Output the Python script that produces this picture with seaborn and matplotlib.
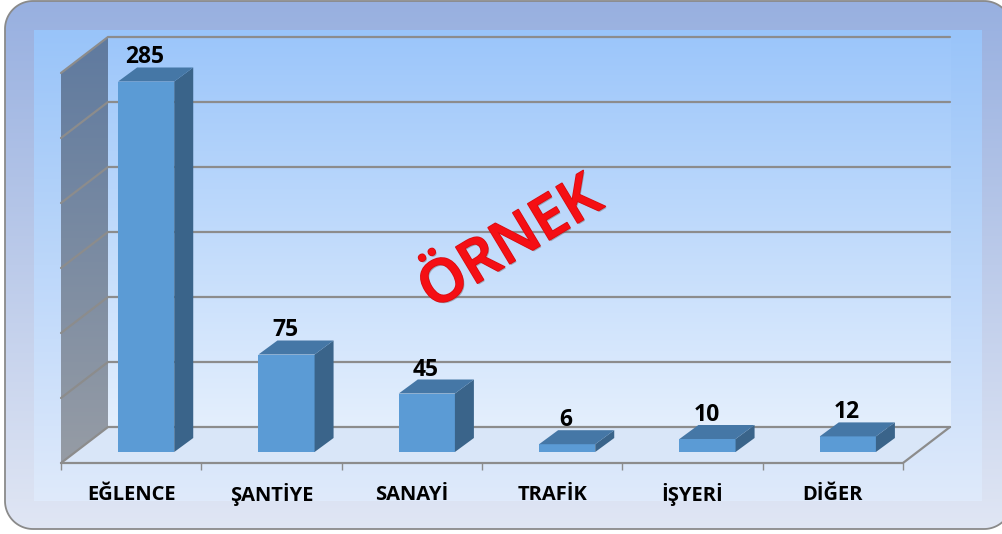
import numpy as np
import pandas as pd
import matplotlib
matplotlib.use("Agg")
import matplotlib.pyplot as plt
import matplotlib.patheffects as pe
from matplotlib.colors import LinearSegmentedColormap
from matplotlib.patches import Polygon, Rectangle
import seaborn as sns

categories = ["EĞLENCE", "ŞANTİYE", "SANAYİ", "TRAFİK", "İŞYERİ", "DİĞER"]
values = [285, 75, 45, 6, 10, 12]
y_grid = [0, 50, 100, 150, 200, 250, 300]

W, H = 1003, 534
sns.set_theme(style="white")
plt.rcParams["font.family"] = ["Open Sans", "DejaVu Sans"]
fig = plt.figure(figsize=(W / 100, H / 100), dpi=100, facecolor="white")

# ---- decorative backdrop in pixel coordinates
bg = fig.add_axes([0, 0, 1, 1], zorder=0)
bg.set_xlim(0, W); bg.set_ylim(H, 0); bg.axis("off")
grad = np.linspace(0, 1, 256).reshape(-1, 1)

def vgrad(c0, c1, box, clip=None):
    cmap = LinearSegmentedColormap.from_list("g", [c0, c1])
    im = bg.imshow(grad, cmap=cmap, extent=(box[0], box[1], box[3], box[2]),
                   aspect="auto", zorder=box[4])
    if clip is not None:
        im.set_clip_box(fig.bbox)
        im.set_clip_path(clip)
    return im

def rounded_outline(x0, x1, y0, y1, r):
    pts = []
    for cx, cy, a0 in [(x1 - r, y0 + r, -90), (x1 - r, y1 - r, 0), (x0 + r, y1 - r, 90), (x0 + r, y0 + r, 180)]:
        t = np.radians(np.linspace(a0, a0 + 90, 24))
        pts.append(np.column_stack([cx + r * np.cos(t), cy + r * np.sin(t)]))
    return np.vstack(pts)

frame = Polygon(rounded_outline(5, 1012, 1, 529, 28), closed=True,
                fc="none", ec="#8a8a8a", lw=1.3, zorder=3, clip_on=False)
bg.add_patch(frame)
vgrad("#98b0e0", "#e0e6f4", (5, 1012, 1, 529, 1), clip=frame)
vgrad("#99c4f9", "#dfeafb", (34, 982, 30, 501, 2))
vgrad("#9cc6fa", "#e4effd", (108, 951, 37, 427, 2.1))
bg.set_xlim(0, W); bg.set_ylim(H, 0)

# ---- chart axes: front plane of the 3D box
ax = fig.add_axes([61 / W, 1 - 463 / H, (903 - 61) / W, (463 - 73) / H], zorder=2)
ax.patch.set_alpha(0)
df = pd.DataFrame({"category": categories, "value": values})
sns.barplot(data=df, x="category", y="value", color="#5b9bd5", saturation=1,
            width=0.4, ax=ax, zorder=5, linewidth=0, edgecolor="none")
ax.set_xlim(-0.5, 5.5)
ax.set_ylim(0, 300)
ax.set_xlabel(""); ax.set_ylabel("")

px_x = (903 - 61) / 6      # pixels per category
px_y = 390 / 300           # pixels per value unit
wall_dx, wall_dy = 47 / px_x, 36 / px_y
bar_dx, bar_dy = 19 / px_x, 14 / px_y
shift_x, shift_y = 15 / px_x, 11 / px_y
grid_c = "#8c8c8c"

# floor
ax.add_patch(Polygon([(-0.5, 0), (5.5, 0), (5.5 + wall_dx, wall_dy), (-0.5 + wall_dx, wall_dy)],
                     fc="#d9e6f8", ec="none", zorder=1, clip_on=False))
# left wall with gradient
wall = Polygon([(-0.5, 0), (-0.5, 300), (-0.5 + wall_dx, 300 + wall_dy), (-0.5 + wall_dx, wall_dy)],
               fc="none", ec="none", transform=ax.transData, clip_on=False)
ax.add_patch(wall)
cm = LinearSegmentedColormap.from_list("w", ["#5f7a9f", "#969ca5"])
im = ax.imshow(grad, cmap=cm, extent=(-0.5, -0.5 + wall_dx, 0, 300 + wall_dy),
               aspect="auto", zorder=1.1)
im.set_clip_box(fig.bbox)
im.set_clip_path(wall)
ax.set_xlim(-0.5, 5.5); ax.set_ylim(0, 300)

# gridlines around back wall and left wall
for v in y_grid:
    bx = -0.5 + wall_dx
    ax.plot([-0.5, bx, 5.5 + wall_dx], [v, v + wall_dy, v + wall_dy], color=grid_c,
            lw=1.6, zorder=2, clip_on=False, solid_joinstyle="miter")
ax.plot([5.5, 5.5 + wall_dx], [0, wall_dy], color=grid_c, lw=1.6, zorder=2, clip_on=False)
ax.plot([-0.5, 5.5], [0, 0], color=grid_c, lw=1.6, zorder=2, clip_on=False)

# bars: move the front faces into the box and add side and top faces
bars = [p for p in ax.patches if isinstance(p, Rectangle) and p.get_width() < 1][:len(values)]
for p, v in zip(bars, values):
    p.set_x(p.get_x() + shift_x)
    p.set_y(shift_y)
    p.set_clip_on(False)
    x0, x1 = p.get_x(), p.get_x() + p.get_width()
    y0, y1 = shift_y, shift_y + v
    ax.add_patch(Polygon([(x1, y0), (x1 + bar_dx, y0 + bar_dy), (x1 + bar_dx, y1 + bar_dy), (x1, y1)],
                         fc="#3a648a", ec="none", zorder=5, clip_on=False))
    ax.add_patch(Polygon([(x0, y1), (x1, y1), (x1 + bar_dx, y1 + bar_dy), (x0 + bar_dx, y1 + bar_dy)],
                         fc="#4577a6", ec="none", zorder=5, clip_on=False))
    ax.text((x0 + x1) / 2 - 1 / px_x, y1 + 18 / px_y, str(v), ha="center", va="baseline",
            fontsize=16.5, fontweight="bold", color="black", zorder=6, clip_on=False)

# axis ticks
sns.despine(ax=ax, left=True, right=True, top=True, bottom=True)
ax.set_yticks([])
ax.set_xticks(np.arange(-0.5, 6, 1))
ax.set_xticklabels([])
ax.set_xticks(np.arange(len(categories)), minor=True)
ax.set_xticklabels(categories, minor=True, fontsize=14.5, fontweight="bold", color="black")
ax.tick_params(axis="x", which="major", length=5, width=1, color=grid_c, bottom=True)
ax.tick_params(axis="x", which="minor", length=0, pad=27)
for t in ax.get_xticklabels(minor=True):
    t.set_verticalalignment("baseline")

# watermark
fig.text(511 / W, 1 - 245 / H, "ÖRNEK", rotation=31, ha="center", va="center",
         fontsize=42.5, fontweight="semibold", family="Open Sans", color="#f50f14", zorder=5,
         rotation_mode="anchor",
         path_effects=[pe.withSimplePatchShadow(offset=(1, -1), shadow_rgbFace="#666666", alpha=0.45),
                       pe.Stroke(linewidth=1.2, foreground="#d80c12", joinstyle="round"), pe.Normal()])

fig.savefig("out.png", dpi=100)
